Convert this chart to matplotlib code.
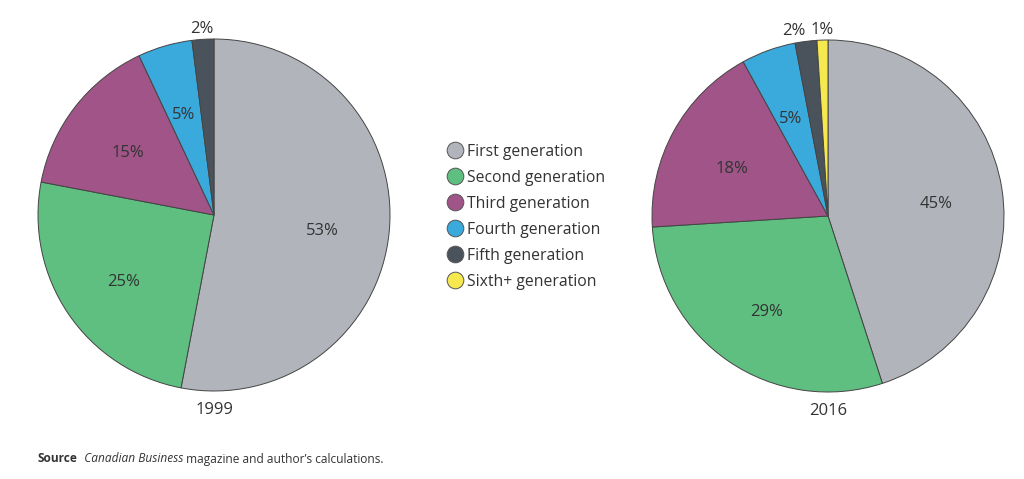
import matplotlib.pyplot as plt
from matplotlib.lines import Line2D
import numpy as np

plt.rcParams['font.family'] = ['Open Sans', 'DejaVu Sans']

# data
categories = ["First generation", "Second generation", "Third generation",
              "Fourth generation", "Fifth generation", "Sixth+ generation"]
colors = ["#b1b5bb", "#5fbf80", "#a05487", "#3aa9dc", "#4a535c", "#f5e94f"]
values_1999 = [53, 25, 15, 5, 2]
values_2016 = [45, 29, 18, 5, 2, 1]
years = ["1999", "2016"]

W, H = 1024, 479
fig = plt.figure(figsize=(W / 100, H / 100), dpi=100)
txt_color = "#333333"


def draw_pie(cx, cy, r, values, year, nudge=None):
    ax = fig.add_axes([(cx - r) / W, (H - cy - r) / H, 2 * r / W, 2 * r / H])
    wedges, _ = ax.pie(values, colors=colors[:len(values)], startangle=90,
                       counterclock=False, radius=1,
                       wedgeprops=dict(edgecolor="#444444", linewidth=0.7))
    for i, (w, v) in enumerate(zip(wedges, values)):
        ang = np.deg2rad((w.theta1 + w.theta2) / 2)
        d = 0.62 if v > 3 else 1.06
        x, y = d * np.cos(ang), d * np.sin(ang)
        if v > 3:
            y -= 0.03
        if nudge and i in nudge:
            x += nudge[i]
        ax.text(x, y, f"{v}%", ha="center", va="center", fontsize=12, color=txt_color)
    ax.text(0, -1.11, year, ha="center", va="center", fontsize=12, color=txt_color)
    ax.set_xlim(-1, 1)
    ax.set_ylim(-1, 1)
    ax.set_aspect("equal")
    ax.axis("off")
    return ax


draw_pie(214, 215, 176, values_1999, years[0])
draw_pie(828, 216, 176, values_2016, years[1], nudge={4: -0.06})

handles = [Line2D([], [], marker="o", linestyle="", markersize=12,
                  markerfacecolor=c, markeredgecolor="#555555", markeredgewidth=0.7)
           for c in colors]
fig.legend(handles, categories, loc="upper left", bbox_to_anchor=(432 / W, 1 - 129.5 / H),
           frameon=False, fontsize=11.3, labelspacing=0.64, handletextpad=0.2,
           handlelength=1.1, labelcolor=txt_color)

# source line
fig.canvas.draw()
r = fig.canvas.get_renderer()
y = 1 - 459 / H
x = 38 / W
for s, kw in [("Source", dict(weight="bold")), ("  Canadian Business", dict(style="italic")),
              (" magazine and author\u2019s calculations.", {})]:
    t = fig.text(x, y, s, fontsize=8.6, color=txt_color, va="center", **kw)
    bb = t.get_window_extent(renderer=r)
    x = bb.x1 / W

fig.savefig("out.png", dpi=100)
